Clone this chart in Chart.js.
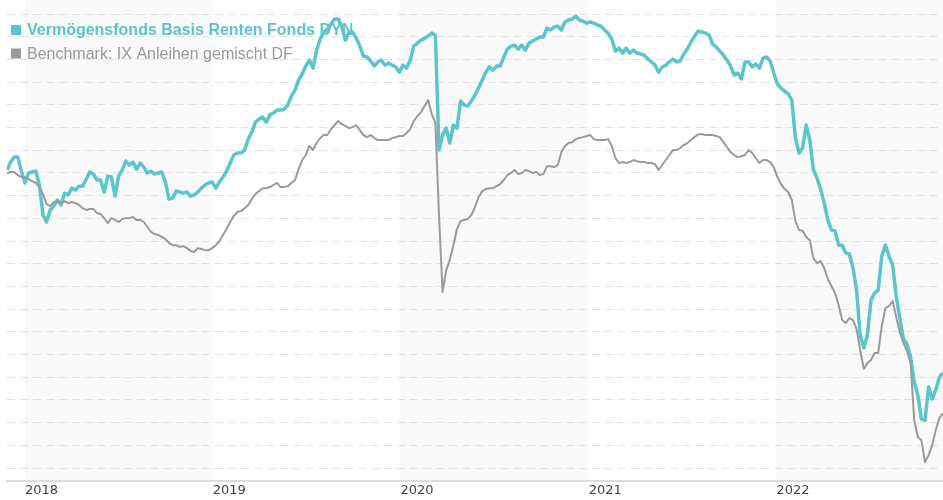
<!DOCTYPE html>
<html>
<head>
<meta charset="utf-8">
<script src="https://cdn.jsdelivr.net/npm/chart.js@4"></script>
<style>
  html, body { margin: 0; padding: 0; background: #fff; }
  #wrap { width: 943px; height: 500px; position: relative; }
</style>
</head>
<body>
<div id="wrap"><canvas id="perfChart"></canvas></div>
<script>
/* ============================
   Series names
============================ */
const seriesNames = [
    'Vermögensfonds Basis Renten Fonds DYN',
    'Benchmark: IX Anleihen gemischt DF'
];

/* ============================
   Weekly values (% change), first week 2017-11-27
============================ */
const firstWeek = Date.UTC(2017, 10, 27);
const weekMs = 7 * 24 * 3600 * 1000;

const fundValues = [
    0.13, 0.48, 0.70, 0.70, 0.08, -0.44, 0.00, 0.04, 0.08, -0.53,
    -1.85, -2.16, -1.63, -1.46, -1.19, -1.41, -0.89, -0.97, -0.67, -0.75,
    -0.58, -0.58, -0.27, 0.04, -0.05, -0.31, -0.31, -0.84, -0.14, -0.18,
    -1.02, -0.14, 0.13, 0.52, 0.35, 0.48, 0.17, 0.44, 0.26, 0.00,
    0.08, -0.05, 0.00, 0.04, -0.40, -1.15, -1.11, -0.80, -0.84, -0.89,
    -0.84, -1.02, -0.97, -0.84, -0.67, -0.53, -0.44, -0.40, -0.67, -0.40,
    -0.18, 0.08, 0.44, 0.79, 0.88, 0.88, 1.01, 1.49, 1.80, 2.24,
    2.37, 2.46, 2.24, 2.55, 2.64, 2.77, 2.77, 2.81, 2.99, 3.39,
    3.65, 4.09, 4.36, 4.71, 4.97, 4.62, 5.41, 5.90, 6.21, 6.34,
    6.56, 6.78, 6.78, 6.43, 5.85, 6.21, 6.21, 5.94, 5.59, 5.15,
    5.11, 4.93, 4.71, 4.89, 4.97, 4.75, 4.84, 4.75, 4.67, 4.44,
    4.75, 4.62, 4.97, 5.59, 5.72, 5.85, 5.94, 6.03, 6.16, 6.07,
    1.01, 1.67, 1.98, 1.32, 2.11, 1.98, 3.17, 2.99, 2.95, 3.17,
    3.43, 3.74, 4.09, 4.44, 4.67, 4.53, 4.71, 4.71, 5.11, 5.46,
    5.59, 5.63, 5.46, 5.63, 5.41, 5.72, 5.81, 5.90, 5.99, 5.99,
    6.38, 6.30, 6.43, 6.47, 6.30, 6.65, 6.74, 6.78, 6.91, 6.74,
    6.69, 6.60, 6.65, 6.60, 6.52, 6.47, 6.30, 6.16, 5.90, 5.37,
    5.50, 5.28, 5.50, 5.28, 5.41, 5.28, 5.24, 5.19, 5.02, 4.89,
    4.75, 4.44, 4.67, 4.75, 4.89, 5.02, 4.89, 4.93, 5.24, 5.46,
    5.77, 6.03, 6.25, 6.21, 6.16, 6.07, 5.68, 5.55, 5.37, 5.19,
    4.97, 4.71, 4.31, 4.40, 4.14, 4.89, 4.89, 4.67, 4.80, 4.62,
    5.06, 5.11, 4.93, 4.40, 3.92, 3.74, 3.61, 3.48, 3.21, 1.54,
    0.88, 1.10, 2.11, 1.45, 0.13, -0.22, -0.71, -1.33, -2.07, -2.51,
    -2.55, -3.18, -3.18, -3.53, -3.57, -4.19, -5.16, -7.14, -7.71, -7.14,
    -5.60, -5.29, -5.16, -3.66, -3.18, -3.66, -4.06, -5.42, -6.39, -7.32,
    -7.54, -8.11, -9.21, -9.78, -10.84, -10.89, -9.43, -9.96, -9.56, -8.99, -8.81
];

const benchmarkValues = [
    0.00, 0.04, 0.04, -0.09, -0.18, -0.18, -0.27, -0.36, -0.44, -0.62,
    -0.93, -1.37, -1.46, -1.28, -1.24, -1.33, -1.24, -1.33, -1.28, -1.33,
    -1.41, -1.55, -1.63, -1.59, -1.59, -1.77, -1.81, -1.99, -2.21, -1.99,
    -2.07, -2.16, -2.03, -1.99, -1.99, -1.94, -2.07, -2.07, -2.16, -2.38,
    -2.60, -2.69, -2.73, -2.82, -2.91, -3.08, -3.18, -3.18, -3.26, -3.22,
    -3.31, -3.44, -3.48, -3.31, -3.35, -3.40, -3.40, -3.31, -3.18, -3.00,
    -2.73, -2.47, -2.16, -1.89, -1.72, -1.68, -1.55, -1.41, -1.15, -0.93,
    -0.80, -0.67, -0.67, -0.62, -0.53, -0.44, -0.62, -0.62, -0.58, -0.44,
    -0.31, 0.17, 0.57, 0.79, 1.19, 1.01, 1.32, 1.54, 1.67, 1.67,
    1.93, 2.11, 2.29, 2.15, 2.07, 1.98, 2.02, 2.11, 1.89, 1.67,
    1.58, 1.67, 1.54, 1.45, 1.45, 1.45, 1.45, 1.54, 1.58, 1.63,
    1.63, 1.76, 1.93, 2.29, 2.51, 2.68, 2.95, 3.21, 2.59, 2.20,
    -1.85, -5.25, -4.28, -3.84, -3.18, -2.47, -2.12, -2.07, -2.03, -1.85,
    -1.50, -1.06, -0.80, -0.71, -0.67, -0.67, -0.58, -0.49, -0.31, -0.09,
    0.00, 0.13, -0.05, 0.00, 0.13, 0.08, 0.00, 0.04, -0.09, -0.05,
    0.30, 0.30, 0.26, 0.35, 0.92, 1.19, 1.32, 1.36, 1.49, 1.54,
    1.58, 1.63, 1.67, 1.49, 1.45, 1.45, 1.45, 1.49, 1.19, 0.66,
    0.44, 0.48, 0.44, 0.48, 0.57, 0.52, 0.48, 0.48, 0.44, 0.44,
    0.39, 0.13, 0.35, 0.57, 0.79, 1.01, 1.01, 1.10, 1.23, 1.32,
    1.45, 1.58, 1.71, 1.71, 1.67, 1.67, 1.67, 1.63, 1.58, 1.36,
    1.14, 0.92, 0.79, 0.70, 0.74, 0.79, 1.01, 0.88, 0.66, 0.44,
    0.57, 0.57, 0.48, 0.26, -0.18, -0.49, -0.71, -0.84, -1.19, -2.12,
    -2.51, -2.55, -2.82, -2.96, -3.75, -3.97, -3.88, -4.19, -4.67, -4.98,
    -5.29, -5.82, -6.48, -6.61, -6.39, -6.48, -6.88, -7.80, -8.63, -8.37,
    -8.24, -7.93, -7.93, -6.74, -5.95, -5.86, -5.64, -6.35, -7.01, -7.49,
    -7.85, -8.37, -10.88, -11.63, -11.77, -12.74, -12.43, -11.99, -11.32, -10.80, -10.58
];

/* ============================
   Axis ticks
============================ */
const yearTicks = [2018, 2019, 2020, 2021, 2022];
const shadedYears = [2018, 2020, 2022];
const yMin = -13.57;
const yMax = 7.62;

const toPoints = values => values.map((v, i) => ({ x: firstWeek + i * weekMs, y: v }));

/* ============================
   Plugins: year bands + legend in the plot
============================ */
const yearBands = {
    id: 'yearBands',
    beforeDraw(chart) {
        const { ctx, chartArea, scales } = chart;
        const x = scales.x;
        ctx.save();
        ctx.fillStyle = '#f9f9f9';
        shadedYears.forEach(year => {
            const left = Math.max(x.getPixelForValue(Date.UTC(year, 0, 1)), chartArea.left);
            const right = Math.min(x.getPixelForValue(Date.UTC(year + 1, 0, 1)), chartArea.right);
            if (right > left) {
                ctx.fillRect(left, 0, right - left, chartArea.bottom);
            }
        });
        ctx.restore();
    }
};

const overlayLegend = {
    id: 'overlayLegend',
    beforeDatasetsDraw(chart) {
        const ctx = chart.ctx;
        ctx.save();
        chart.data.datasets.forEach((ds, i) => {
            const baseline = 35 + i * 23.5;
            ctx.fillStyle = ds.borderColor;
            ctx.fillRect(11, baseline - 10, 10, 10);
            ctx.font = (i === 0 ? 'bold ' : '') + '16px "Liberation Sans", Arial, sans-serif';
            ctx.textBaseline = 'alphabetic';
            ctx.fillText(ds.label, 27, baseline);
        });
        ctx.restore();
    }
};

/* ============================
   Chart
============================ */
new Chart(document.getElementById('perfChart'), {
    type: 'line',
    data: {
        datasets: [{
            label: seriesNames[0],
            data: toPoints(fundValues),
            borderColor: '#5bc5cc',
            borderWidth: 3.5,
            borderJoinStyle: 'round',
            pointRadius: 0,
            order: 1
        }, {
            label: seriesNames[1],
            data: toPoints(benchmarkValues),
            borderColor: '#9a9a9a',
            borderWidth: 2,
            borderJoinStyle: 'round',
            pointRadius: 0,
            order: 0
        }]
    },
    options: {
        responsive: true,
        maintainAspectRatio: false,
        animation: false,
        layout: { padding: { left: 7, right: 0, top: 0, bottom: 0 } },
        plugins: {
            legend: { display: false },
            tooltip: { enabled: false }
        },
        scales: {
            x: {
                type: 'linear',
                min: firstWeek,
                max: firstWeek + (fundValues.length - 1) * weekMs,
                afterBuildTicks: scale => {
                    scale.ticks = yearTicks.map(y => ({ value: Date.UTC(y, 0, 1) }));
                },
                afterFit: scale => { scale.height = 19; },
                grid: { display: false, drawTicks: false },
                border: { display: true, color: '#dcdcdc', width: 2 },
                ticks: {
                    align: 'start',
                    padding: 2,
                    autoSkip: false,
                    maxRotation: 0,
                    color: '#444',
                    font: { family: '"DejaVu Sans", Verdana, sans-serif', size: 13 },
                    callback: value => new Date(value).getUTCFullYear()
                }
            },
            y: {
                min: yMin,
                max: yMax,
                afterBuildTicks: scale => {
                    const ticks = [];
                    for (let v = Math.ceil(yMin); v <= Math.floor(yMax); v++) ticks.push({ value: v });
                    scale.ticks = ticks;
                },
                afterFit: scale => { scale.width = 0; },
                ticks: { display: false },
                grid: { color: '#e2e2e2', lineWidth: 1, drawTicks: false },
                border: { display: false, dash: [8, 5] }
            }
        }
    },
    plugins: [yearBands, overlayLegend]
});
</script>
</body>
</html>
